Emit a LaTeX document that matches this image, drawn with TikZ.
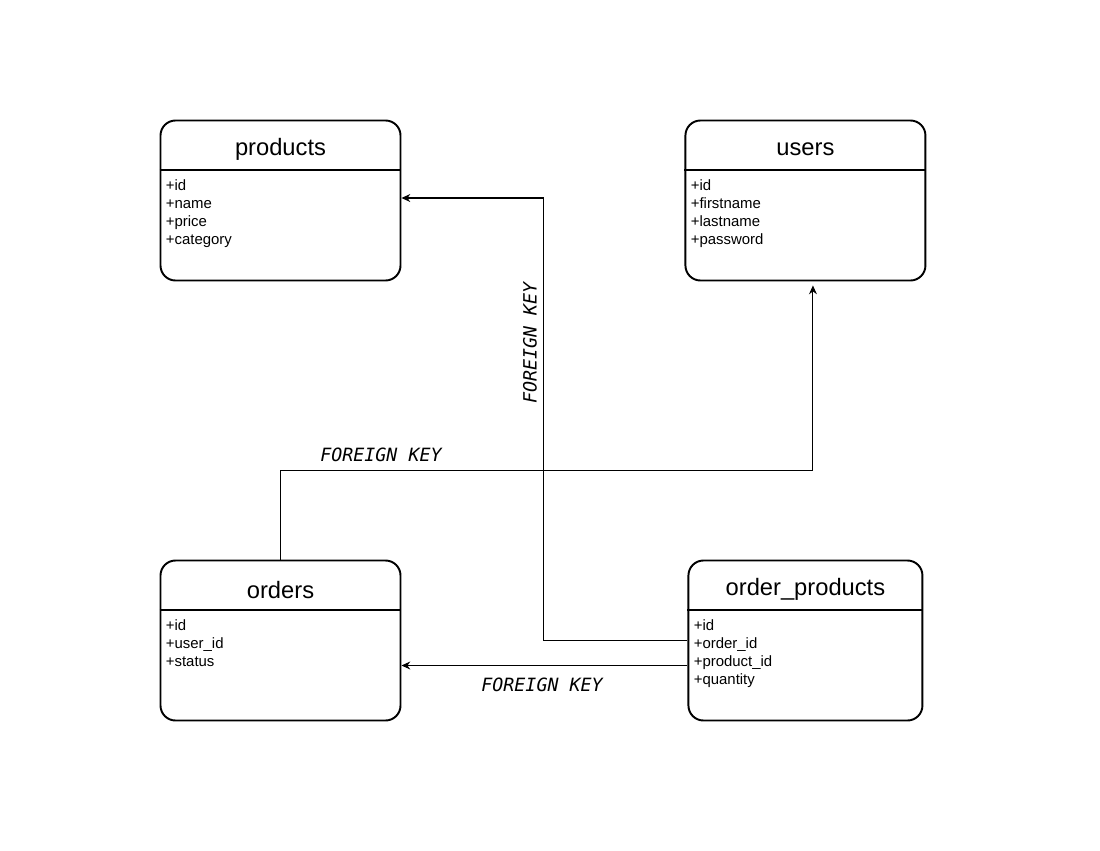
\documentclass[tikz,border=0pt]{standalone}
\usepackage{fontspec}
\setmainfont{Liberation Sans}
\setmonofont{DejaVu Sans Mono}
\usetikzlibrary{arrows.meta,positioning}

\begin{document}
\begin{tikzpicture}[->,>={Stealth[length=5pt,width=4.5pt]},node distance=5.6cm,
    tbl/.style={draw,line width=1.1pt,rounded corners=0.3cm,minimum width=4.8cm,minimum height=3.2cm,inner sep=0},
    ttl/.style={inner sep=0,font=\fontsize{13.5}{16}\selectfont},
    fields/.style={anchor=north west,align=left,inner sep=0,font=\fontsize{8.5}{10.2}\selectfont},
    fk/.style={line width=0.6pt},
    fklabel/.style={inner sep=0,font=\fontsize{10.4}{12}\selectfont\ttfamily\itshape}]
    \useasboundingbox (0,0) rectangle (22,-17);

    % tables
    \node[tbl] (products) at (5.61,-4.01) {};
    \node[tbl] (users) [right=5.66cm of products] {};
    \node[tbl] (orders) [below of=products,node distance=8.8cm] {};
    \node[tbl,minimum width=4.68cm] (orderproducts) [below of=users,node distance=8.8cm] {};

    \foreach \t in {products,users,orders,orderproducts}
        \draw[-,line width=1.1pt] ([yshift=-1cm]\t.north west) -- ([yshift=-1cm]\t.north east);

    \node[ttl] (products-t) at ([yshift=-0.6cm]products.north) {products};
    \node[ttl] (users-t) at ([yshift=-0.6cm]users.north) {users};
    \node[ttl] (orders-t) at ([yshift=-0.6cm]orders.north) {orders};
    \node[ttl] (orderproducts-t) at ([yshift=-0.6cm]orderproducts.north) {order\_products};

    \node[fields] (products-f) at ([xshift=0.12cm,yshift=-1.2cm]products.north west) {+id\\+name\\+price\\+category};
    \node[fields] (users-f) at ([xshift=0.12cm,yshift=-1.2cm]users.north west) {+id\\+firstname\\+lastname\\+password};
    \node[fields] (orders-f) at ([xshift=0.12cm,yshift=-1.2cm]orders.north west) {+id\\+user\_id\\+status};
    \node[fields] (orderproducts-f) at ([xshift=0.12cm,yshift=-1.2cm]orderproducts.north west) {+id\\+order\_id\\+product\_id\\+quantity};

    % foreign keys
    \draw[fk] (orderproducts.west) -- ++(-2.88,0) |- ([yshift=0.05cm]products.east);
    \draw[fk] (orders.north) -- ++(0,1.78) -| ([xshift=0.15cm,yshift=-0.08cm]users.south);
    \draw[fk] ([yshift=-0.5cm]orderproducts.west) -- ([yshift=-0.5cm]orders.east);

    \node[fklabel,rotate=90] (fk1) at (10.6,-6.86) {FOREIGN KEY};
    \node[fklabel] (fk2) at (7.62,-9.1) {FOREIGN KEY};
    \node[fklabel] (fk3) at (10.84,-13.7) {FOREIGN KEY};
\end{tikzpicture}
\end{document}
